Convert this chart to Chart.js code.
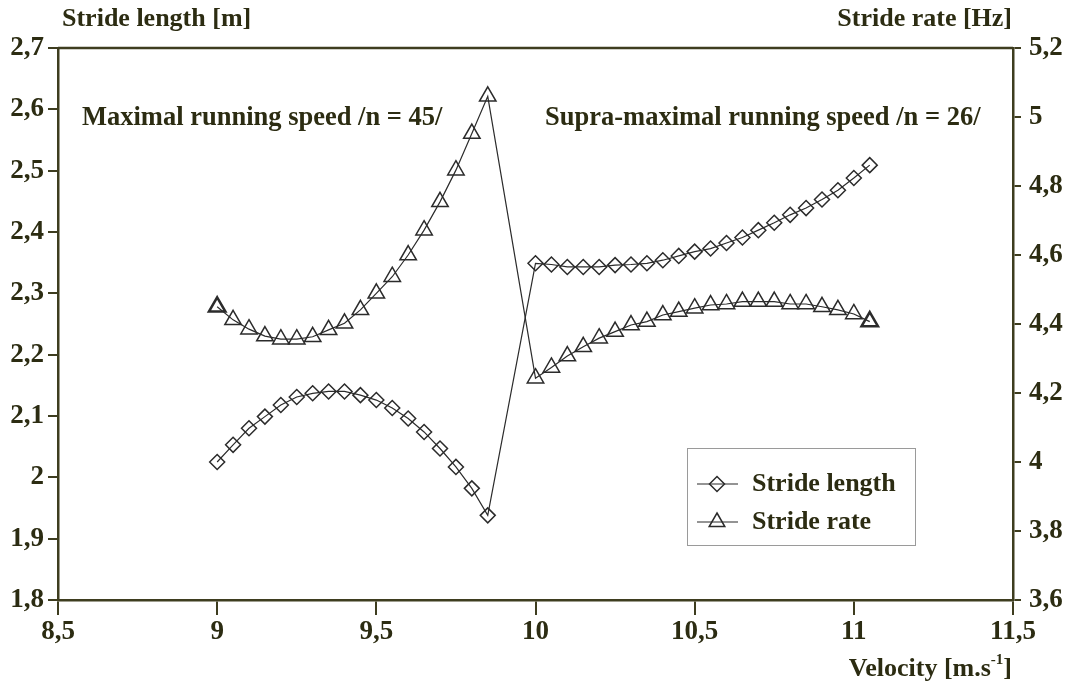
<!DOCTYPE html>
<html>
<head>
<meta charset="utf-8">
<script src="https://cdn.jsdelivr.net/npm/chart.js@4"></script>
<style>
  html, body { margin: 0; padding: 0; background: #fff; }
  #chart { display: block; }
</style>
</head>
<body>
<canvas id="chart" width="1074" height="687"></canvas>
<script>
// velocity [m/s], maximal run (9 - 9.85) then supra-maximal run (10 - 11.05)
var velocity = [
    9.00, 9.05, 9.10, 9.15, 9.20, 9.25, 9.30, 9.35, 9.40, 9.45,
    9.50, 9.55, 9.60, 9.65, 9.70, 9.75, 9.80, 9.85,
    10.00, 10.05, 10.10, 10.15, 10.20, 10.25, 10.30, 10.35, 10.40, 10.45,
    10.50, 10.55, 10.60, 10.65, 10.70, 10.75, 10.80, 10.85, 10.90, 10.95,
    11.00, 11.05
];
var strideLength = [
    2.025, 2.053, 2.080, 2.099, 2.118, 2.131, 2.137, 2.140, 2.140, 2.134,
    2.126, 2.113, 2.096, 2.074, 2.047, 2.017, 1.982, 1.938,
    2.349, 2.347, 2.343, 2.343, 2.343, 2.346, 2.347, 2.349, 2.354, 2.361,
    2.368, 2.373, 2.382, 2.391, 2.403, 2.415, 2.428, 2.439, 2.453, 2.468,
    2.488, 2.509
];
var strideRate = [
    4.450, 4.412, 4.385, 4.365, 4.356, 4.356, 4.363, 4.383, 4.402, 4.441,
    4.489, 4.537, 4.600, 4.672, 4.754, 4.846, 4.952, 5.060,
    4.243, 4.274, 4.307, 4.334, 4.359, 4.378, 4.397, 4.407, 4.426, 4.436,
    4.446, 4.455, 4.458, 4.465, 4.465, 4.465, 4.458, 4.458, 4.450, 4.441,
    4.429, 4.407
];
var seriesNames = ["Stride length", "Stride rate"];
var leftAxisTitle = "Stride length [m]";
var rightAxisTitle = "Stride rate [Hz]";
var noteLeft = "Maximal running speed /n = 45/";
var noteRight = "Supra-maximal running speed /n = 26/";

var axisColor = "#3e3d1f";
var textColor = "#2c2c12";
var markColor = "#2b2b2b";
var fontFamily = "'Liberation Serif', 'DejaVu Serif', serif";
var tickFont = { family: fontFamily, size: 27, weight: "bold" };

function comma(v) {
    return String(Math.round(v * 100) / 100).replace(".", ",");
}

function toPoints(ys) {
    return velocity.map(function (x, i) { return { x: x, y: ys[i] }; });
}

// frame on top, texts and the boxed legend
var extras = {
    id: "extras",
    afterDraw: function (chart) {
        var ctx = chart.ctx;
        var a = chart.chartArea;
        ctx.save();
        ctx.strokeStyle = axisColor;
        ctx.lineWidth = 2.5;
        ctx.beginPath();
        ctx.moveTo(a.left, a.top);
        ctx.lineTo(a.right, a.top);
        ctx.stroke();

        ctx.fillStyle = textColor;
        ctx.textBaseline = "middle";
        ctx.textAlign = "left";
        ctx.font = "bold 26px " + fontFamily;
        ctx.fillText(leftAxisTitle, 62, 19);
        ctx.font = "bold 26.5px " + fontFamily;
        ctx.fillText(noteLeft, 82, 118);
        ctx.fillText(noteRight, 545, 118);
        ctx.textAlign = "right";
        ctx.font = "bold 26px " + fontFamily;
        ctx.fillText(rightAxisTitle, 1012, 19);

        // Velocity [m.s-1] with superscript
        var part1 = "Velocity [m.s", sup = "-1", part3 = "]";
        ctx.font = "bold 26px " + fontFamily;
        var w1 = ctx.measureText(part1).width;
        var w3 = ctx.measureText(part3).width;
        ctx.font = "bold 15px " + fontFamily;
        var w2 = ctx.measureText(sup).width;
        var x0 = 1012 - w1 - w2 - w3;
        ctx.textAlign = "left";
        ctx.font = "bold 26px " + fontFamily;
        ctx.fillText(part1, x0, 669);
        ctx.fillText(part3, x0 + w1 + w2, 669);
        ctx.font = "bold 15px " + fontFamily;
        ctx.fillText(sup, x0 + w1, 660);

        // legend
        ctx.strokeStyle = "#9a9a9a";
        ctx.lineWidth = 1;
        ctx.strokeRect(687.5, 448.5, 228, 97);
        var rows = [484, 522];
        rows.forEach(function (y, i) {
            ctx.strokeStyle = markColor;
            ctx.lineWidth = 1.2;
            ctx.beginPath();
            ctx.moveTo(697, y);
            ctx.lineTo(738, y);
            ctx.stroke();
            ctx.lineWidth = 1.5;
            ctx.beginPath();
            if (i === 0) {
                ctx.moveTo(709.5, y);
                ctx.lineTo(717, y - 7.5);
                ctx.lineTo(724.5, y);
                ctx.lineTo(717, y + 7.5);
            } else {
                ctx.moveTo(717, y - 9);
                ctx.lineTo(717 + 7.8, y + 4.5);
                ctx.lineTo(717 - 7.8, y + 4.5);
            }
            ctx.closePath();
            ctx.stroke();
            ctx.fillStyle = textColor;
            ctx.font = "bold 26px " + fontFamily;
            ctx.textAlign = "left";
            ctx.fillText(seriesNames[i], 752, y);
        });
        ctx.restore();
    }
};

var ctx = document.getElementById("chart").getContext("2d");
var myChart = new Chart(ctx, {
    type: "scatter",
    data: {
        datasets: [
            {
                label: seriesNames[0],
                data: toPoints(strideLength),
                yAxisID: "y",
                showLine: true,
                borderColor: markColor,
                borderWidth: 1.2,
                pointStyle: "rectRot",
                pointRadius: 7.5,
                pointBorderWidth: 1.5,
                pointBorderColor: markColor,
                pointBackgroundColor: "rgba(0,0,0,0)",
            },
            {
                label: seriesNames[1],
                data: toPoints(strideRate),
                yAxisID: "y1",
                showLine: true,
                borderColor: markColor,
                borderWidth: 1.2,
                pointStyle: "triangle",
                pointRadius: 9.5,
                pointBorderWidth: function (c) {
                    return (c.dataIndex === 0 || c.dataIndex === strideRate.length - 1) ? 2.5 : 1.5;
                },
                pointBorderColor: markColor,
                pointBackgroundColor: "rgba(0,0,0,0)",
            },
        ],
    },
    options: {
        responsive: false,
        animation: false,
        devicePixelRatio: 1,
        layout: { padding: { top: 48, left: 0, right: 0, bottom: 0 } },
        plugins: {
            legend: { display: false },
            tooltip: { enabled: false },
        },
        scales: {
            x: {
                type: "linear",
                min: 8.5,
                max: 11.5,
                afterFit: function (scale) { scale.height = 87; },
                grid: {
                    drawOnChartArea: false,
                    drawTicks: true,
                    tickLength: 15,
                    color: axisColor,
                    lineWidth: 2,
                },
                border: { color: axisColor, width: 2.5 },
                ticks: {
                    stepSize: 0.5,
                    color: textColor,
                    font: tickFont,
                    padding: 1,
                    maxRotation: 0,
                    callback: function (v) { return comma(v); },
                },
            },
            y: {
                position: "left",
                min: 1.8,
                max: 2.7,
                afterFit: function (scale) { scale.width = 58; },
                grid: {
                    drawOnChartArea: false,
                    drawTicks: true,
                    tickLength: 10,
                    color: axisColor,
                    lineWidth: 2,
                },
                border: { color: axisColor, width: 2.5 },
                ticks: {
                    stepSize: 0.1,
                    color: textColor,
                    font: tickFont,
                    padding: 4,
                    callback: function (v) { return comma(v); },
                },
            },
            y1: {
                position: "right",
                min: 3.6,
                max: 5.2,
                afterFit: function (scale) { scale.width = 61; },
                grid: {
                    drawOnChartArea: false,
                    drawTicks: true,
                    tickLength: 8,
                    color: axisColor,
                    lineWidth: 2,
                },
                border: { color: axisColor, width: 2.5 },
                ticks: {
                    stepSize: 0.2,
                    color: textColor,
                    font: tickFont,
                    padding: 8,
                    callback: function (v) { return comma(v); },
                },
            },
        },
    },
    plugins: [extras],
});
</script>
</body>
</html>
